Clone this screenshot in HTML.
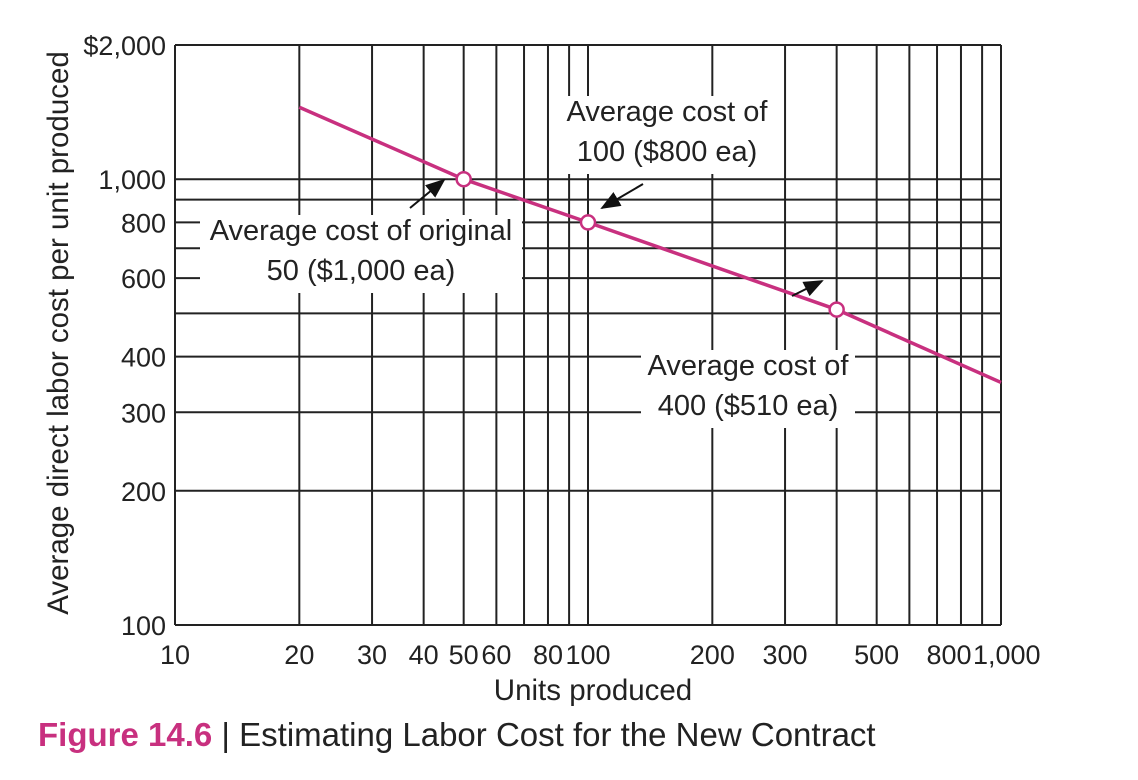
<!DOCTYPE html>
<html><head><meta charset="utf-8"><style>
html,body{margin:0;padding:0;background:#fff;}
svg{display:block;font-family:"Liberation Sans",Arial,sans-serif;}
</style></head><body>
<svg id="chart" width="1138" height="780" viewBox="0 0 1138 780" xmlns="http://www.w3.org/2000/svg">
<g id="grid"></g>
<g id="ticks"></g>
<g id="series"></g>
<g id="ann"></g>
<text transform="translate(68,333) rotate(-90)" text-anchor="middle" font-size="29.5" fill="#222">Average direct labor cost per unit produced</text>
<text x="593" y="700" text-anchor="middle" font-size="29.5" fill="#222">Units produced</text>
<text x="38" y="746" font-size="33" fill="#222"><tspan font-weight="bold" fill="#c8307f">Figure 14.6</tspan><tspan> | Estimating Labor Cost for the New Contract</tspan></text>
</svg>
<script>
const xGridValues=[10,20,30,40,50,60,70,80,90,100,200,300,400,500,600,700,800,900,1000];
const yGridValues=[100,200,300,400,500,600,700,800,900,1000,2000];
const xTickValues=[10,20,30,40,50,60,80,100,200,300,500,800,1000];
const xTickLabels=["10","20","30","40","50","60","80","100","200","300","500","800","1,000"];
const yTickValues=[100,200,300,400,600,800,1000,2000];
const yTickLabels=["100","200","300","400","600","800","1,000","$2,000"];
const units=[20,50,100,400,1000];
const costs=[1450,1000,800,510,350];
const markerUnits=[50,100,400];
const markerCosts=[1000,800,510];

const NS="http://www.w3.org/2000/svg";
const X0=175,X1=1001,Y0=625,Y1=45;
function xs(v){return X0+(X1-X0)*Math.log10(v/10)/2;}
function ys(v){return Y0-(Y0-Y1)*Math.log10(v/100)/Math.log10(20);}
function mk(tag,attrs,parent){const e=document.createElementNS(NS,tag);for(const k in attrs)e.setAttribute(k,attrs[k]);parent.appendChild(e);return e;}
const grid=document.getElementById('grid'),ticks=document.getElementById('ticks'),series=document.getElementById('series'),ann=document.getElementById('ann');
xGridValues.forEach(v=>{const l=mk('line',{x1:xs(v),x2:xs(v),y1:Y1,y2:Y0,stroke:'#222','stroke-width':2},grid);

});
yGridValues.forEach(v=>{const l=mk('line',{x1:X0,x2:X1,y1:ys(v),y2:ys(v),stroke:'#222','stroke-width':2},grid);

});
xTickValues.forEach((v,i)=>{const n=xTickValues.length;let x=xs(v),anchor='middle';
if(i===n-1){x=xs(v)-28;anchor='start';}
if(i===n-2){x=xs(v)-12;}
const t=mk('text',{x:x,y:664,'text-anchor':anchor,'font-size':27,fill:'#222'},ticks);t.textContent=xTickLabels[i];

});
yTickValues.forEach((v,i)=>{const t=mk('text',{x:166,y:ys(v)+10,'text-anchor':'end','font-size':27,fill:'#222'},ticks);t.textContent=yTickLabels[i];

});
const pts=units.map((u,i)=>xs(u)+','+ys(costs[i])).join(' ');
const pl=mk('polyline',{points:pts,fill:'none',stroke:'#c8307f','stroke-width':3.5},series);


markerUnits.forEach((u,i)=>{const c=mk('circle',{cx:xs(u),cy:ys(markerCosts[i]),r:7,fill:'#fff',stroke:'#c8307f','stroke-width':2.5},series);

});
mk('defs',{},ann).innerHTML='<marker id="ah" markerWidth="10" markerHeight="8" refX="9" refY="4" orient="auto"><path d="M0,0L10,4L0,8z" fill="#111"/></marker>';
function label(lines,x,y,w,name){const g=mk('g',{},ann);


mk('rect',{x:x-w/2,y:y-25,width:w,height:lines.length*40-2,fill:'#fff'},g);
lines.forEach((s,i)=>{const t=mk('text',{x:x,y:y+i*40,'text-anchor':'middle','font-size':29,fill:'#222'},g);t.textContent=s;});}
label(["Average cost of original","50 ($1,000 ea)"],361,240,322,'label-original-50');
label(["Average cost of","100 ($800 ea)"],667,121,226,'label-100');
label(["Average cost of","400 ($510 ea)"],748,375,214,'label-400');
function arrow(x1,y1,x2,y2,name){const a=mk('line',{x1:x1,y1:y1,x2:x2,y2:y2,stroke:'#111','stroke-width':2,'marker-end':'url(#ah)'},ann);

}
arrow(410,208,444,180,'arrow-50');
arrow(643,184,602,208,'arrow-100');
arrow(792,296,822,281,'arrow-400');
</script>
</body></html>
